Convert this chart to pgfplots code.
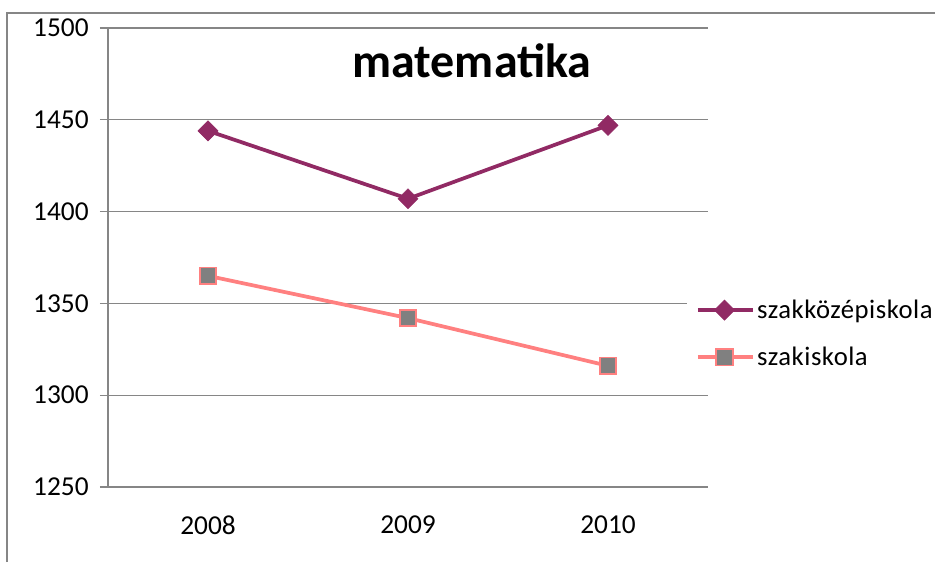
\documentclass[border=0pt]{standalone}
\usepackage{pgfplots}
\pgfplotsset{compat=1.18}
\usepackage{fontspec}
\setmainfont{Carlito}
\newfontfamily\legfont[LetterSpace=2]{Carlito}
\definecolor{magentaS}{RGB}{145,42,100}
\definecolor{salmonS}{RGB}{255,128,128}
\definecolor{grayM}{RGB}{128,128,128}
\definecolor{axisG}{RGB}{134,134,134}
\begin{document}
\begin{tikzpicture}[x=0.75pt,y=0.75pt]
\path[use as bounding box] (-108,-75) rectangle (827,487);
\draw[axisG, line width=1.1pt] (-101,-75) -- (-101,474) -- (827,474);
\begin{axis}[
  at={(0,0)}, anchor=south west,
  scale only axis, width=450pt, height=344.25pt,
  xmin=0.5, xmax=3.5, ymin=1250, ymax=1500,
  xtick={1,2,3}, xticklabels={2008,2009,2010},
  extra x ticks={0.5,1.5,2.5,3.5}, extra x tick labels={},
  extra x tick style={major tick length=6pt, tick style={axisG, line width=0.8pt}, tick pos=bottom},
  ytick={1250,1300,...,1500},
  ymajorgrids, grid style={axisG, line width=0.8pt},
  axis x line*=bottom, axis y line*=left,
  axis line style={axisG, line width=0.8pt},
  x axis line style={-}, y axis line style={-},
  major x tick style={draw=none},
  major y tick style={axisG, line width=0.8pt},
  major tick length=6pt,
  tick align=outside,
  /pgf/number format/assume math mode=true,
  /pgf/number format/1000 sep={},
  ticklabel style={font=\fontsize{20.5pt}{22pt}\selectfont},
  yticklabel style={xshift=-5pt},
  xticklabel style={yshift=-12pt},
  legend style={at={(rel axis cs:0.964,0.334)}, anchor=west, draw=none, fill=white,
    font=\fontsize{20pt}{22pt}\selectfont\legfont, row sep=16pt, inner xsep=7pt, inner ysep=4pt},
  legend cell align=left,
  legend image code/.code={\draw[#1, mark=none] (0pt,0pt) -- (41pt,0pt); \draw[#1, only marks] plot coordinates {(20pt,0pt)};},
  clip=false,
]
\addplot[magentaS, line width=2.8pt, mark=square*, mark size=5.3pt, mark options={rotate=45, fill=magentaS, draw=magentaS, line width=0.5pt}]
  coordinates {(1,1444) (2,1407) (3,1447)};
\addlegendentry{szakközépiskola}
\addplot[salmonS, line width=2.8pt, mark=square*, mark size=6.2pt, mark options={fill=grayM, draw=salmonS, line width=1.3pt}]
  coordinates {(1,1365) (2,1342) (3,1316)};
\addlegendentry{szakiskola}
\end{axis}
\node[anchor=base, font=\fontsize{36pt}{40pt}\selectfont\bfseries] at (364,410) {matematika};
\end{tikzpicture}
\end{document}
